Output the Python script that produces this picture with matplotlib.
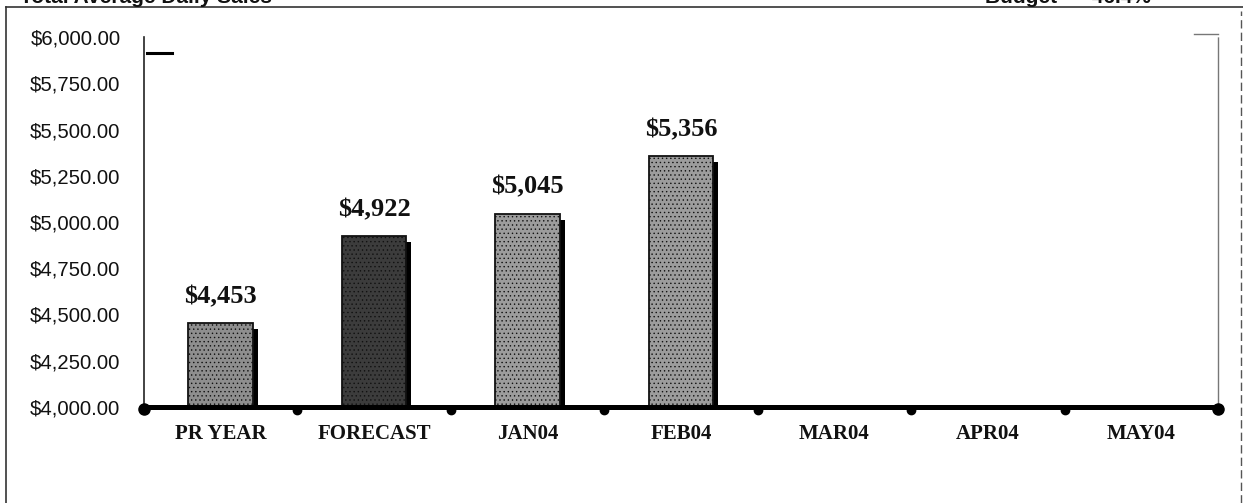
import matplotlib
matplotlib.use("Agg")
import matplotlib.pyplot as plt
from matplotlib.lines import Line2D

categories = ["PR YEAR", "FORECAST", "JAN04", "FEB04", "MAR04", "APR04", "MAY04"]
sales = [4453, 4922, 5045, 5356, None, None, None]
bar_colors = ["#8e8e8e", "#3c3c3c", "#9c9c9c", "#9c9c9c", "#9c9c9c", "#9c9c9c", "#9c9c9c"]
y_ticks = [4000, 4250, 4500, 4750, 5000, 5250, 5500, 5750, 6000]

plt.rcParams["hatch.color"] = "#c8c8c8"
plt.rcParams["hatch.linewidth"] = 0.5

W, H = 1243, 503
fig = plt.figure(figsize=(W / 100, H / 100), dpi=100)
fig.patch.set_facecolor("white")

# plot area in pixel terms
left_px, right_px, top_px, bottom_px = 144, 1218, 37, 407
ax = fig.add_axes([left_px / W, 1 - bottom_px / H,
                   (right_px - left_px) / W, (bottom_px - top_px) / H])
ax.set_xlim(0, len(categories))
ax.set_ylim(4000, 6000)

serif = ["Liberation Serif", "DejaVu Serif"]
sans = ["Liberation Sans", "DejaVu Sans"]

bw = 0.42
dx = 5 / ((right_px - left_px) / len(categories))
dy = 6 / ((bottom_px - top_px) / 2000)
for i, (v, c) in enumerate(zip(sales, bar_colors)):
    if v is None:
        continue
    x = i + 0.5
    # drop shadow
    ax.bar(x + dx, v - dy - 4000, bottom=4000, width=bw, color="black",
           zorder=2, linewidth=0)
    ax.bar(x, v - 4000, bottom=4000, width=bw, color=c, edgecolor="#111111",
           linewidth=1.3, hatch="....", zorder=3)
    ax.annotate(f"${v:,.0f}", (x, v), xytext=(0, 11), textcoords="offset points",
                ha="center", va="bottom", fontsize=19, fontweight="bold",
                family=serif, color="#111111")

ax.set_yticks(y_ticks)
ax.set_yticklabels([f"${t:,.2f}" for t in y_ticks], family=sans, fontsize=14.6,
                   color="#111111")
ax.tick_params(axis="y", length=0, pad=17)

ax.set_xticks([i + 0.5 for i in range(len(categories))])
ax.set_xticklabels(categories, family=serif, fontsize=15, fontweight="bold",
                   color="#111111")
ax.tick_params(axis="x", length=0, pad=12)

ax.spines["top"].set_visible(False)
ax.spines["left"].set_color("#222222")
ax.spines["left"].set_linewidth(1.2)
ax.spines["right"].set_color("#777777")
ax.spines["right"].set_linewidth(1.0)
ax.spines["right"].set_linestyle((0, (2, 1)))
ax.spines["bottom"].set_color("black")
ax.spines["bottom"].set_linewidth(3.6)
ax.spines["bottom"].set_zorder(4)

# category boundary dots along the base line
bx = list(range(len(categories) + 1))
ax.plot(bx[1:-1], [3985] * (len(bx) - 2), "o", color="black", markersize=6,
        clip_on=False, zorder=5)
ax.plot([bx[0], bx[-1]], [3990, 3990], "o", color="black", markersize=8,
        clip_on=False, zorder=5)

# short marks near the top corners of the plot frame
ax.add_line(Line2D([0.003, 0.026], [0.956, 0.956], transform=ax.transAxes,
                   color="black", linewidth=2.2, clip_on=False))
ax.add_line(Line2D([0.978, 1.0], [1.008, 1.008], transform=ax.transAxes,
                   color="#777777", linewidth=1.0, clip_on=False))

# outer page frame
fig.add_artist(Line2D([6 / W, 1.0], [1 - 7 / H, 1 - 7 / H], transform=fig.transFigure,
                      color="#333333", linewidth=1.2))
fig.add_artist(Line2D([6 / W, 6 / W], [0, 1 - 7 / H], transform=fig.transFigure,
                      color="#333333", linewidth=1.2))
fig.add_artist(Line2D([1241 / W, 1241 / W], [0, 1 - 11 / H], transform=fig.transFigure,
                      color="#555555", linewidth=1.0, linestyle=(0, (6, 3))))

# header texts, running off the top of the page
fig.text(20 / W, 1 - 3 / H, "Total Average Daily Sales", ha="left", va="baseline",
         family=sans, fontsize=15, fontweight="bold", color="#111111")
fig.text(985 / W, 1 - 3 / H, "Budget  \u2013  46.4%", ha="left", va="baseline",
         family=sans, fontsize=15, fontweight="bold", color="#111111")

fig.savefig("out.png", dpi=100, facecolor="white")
